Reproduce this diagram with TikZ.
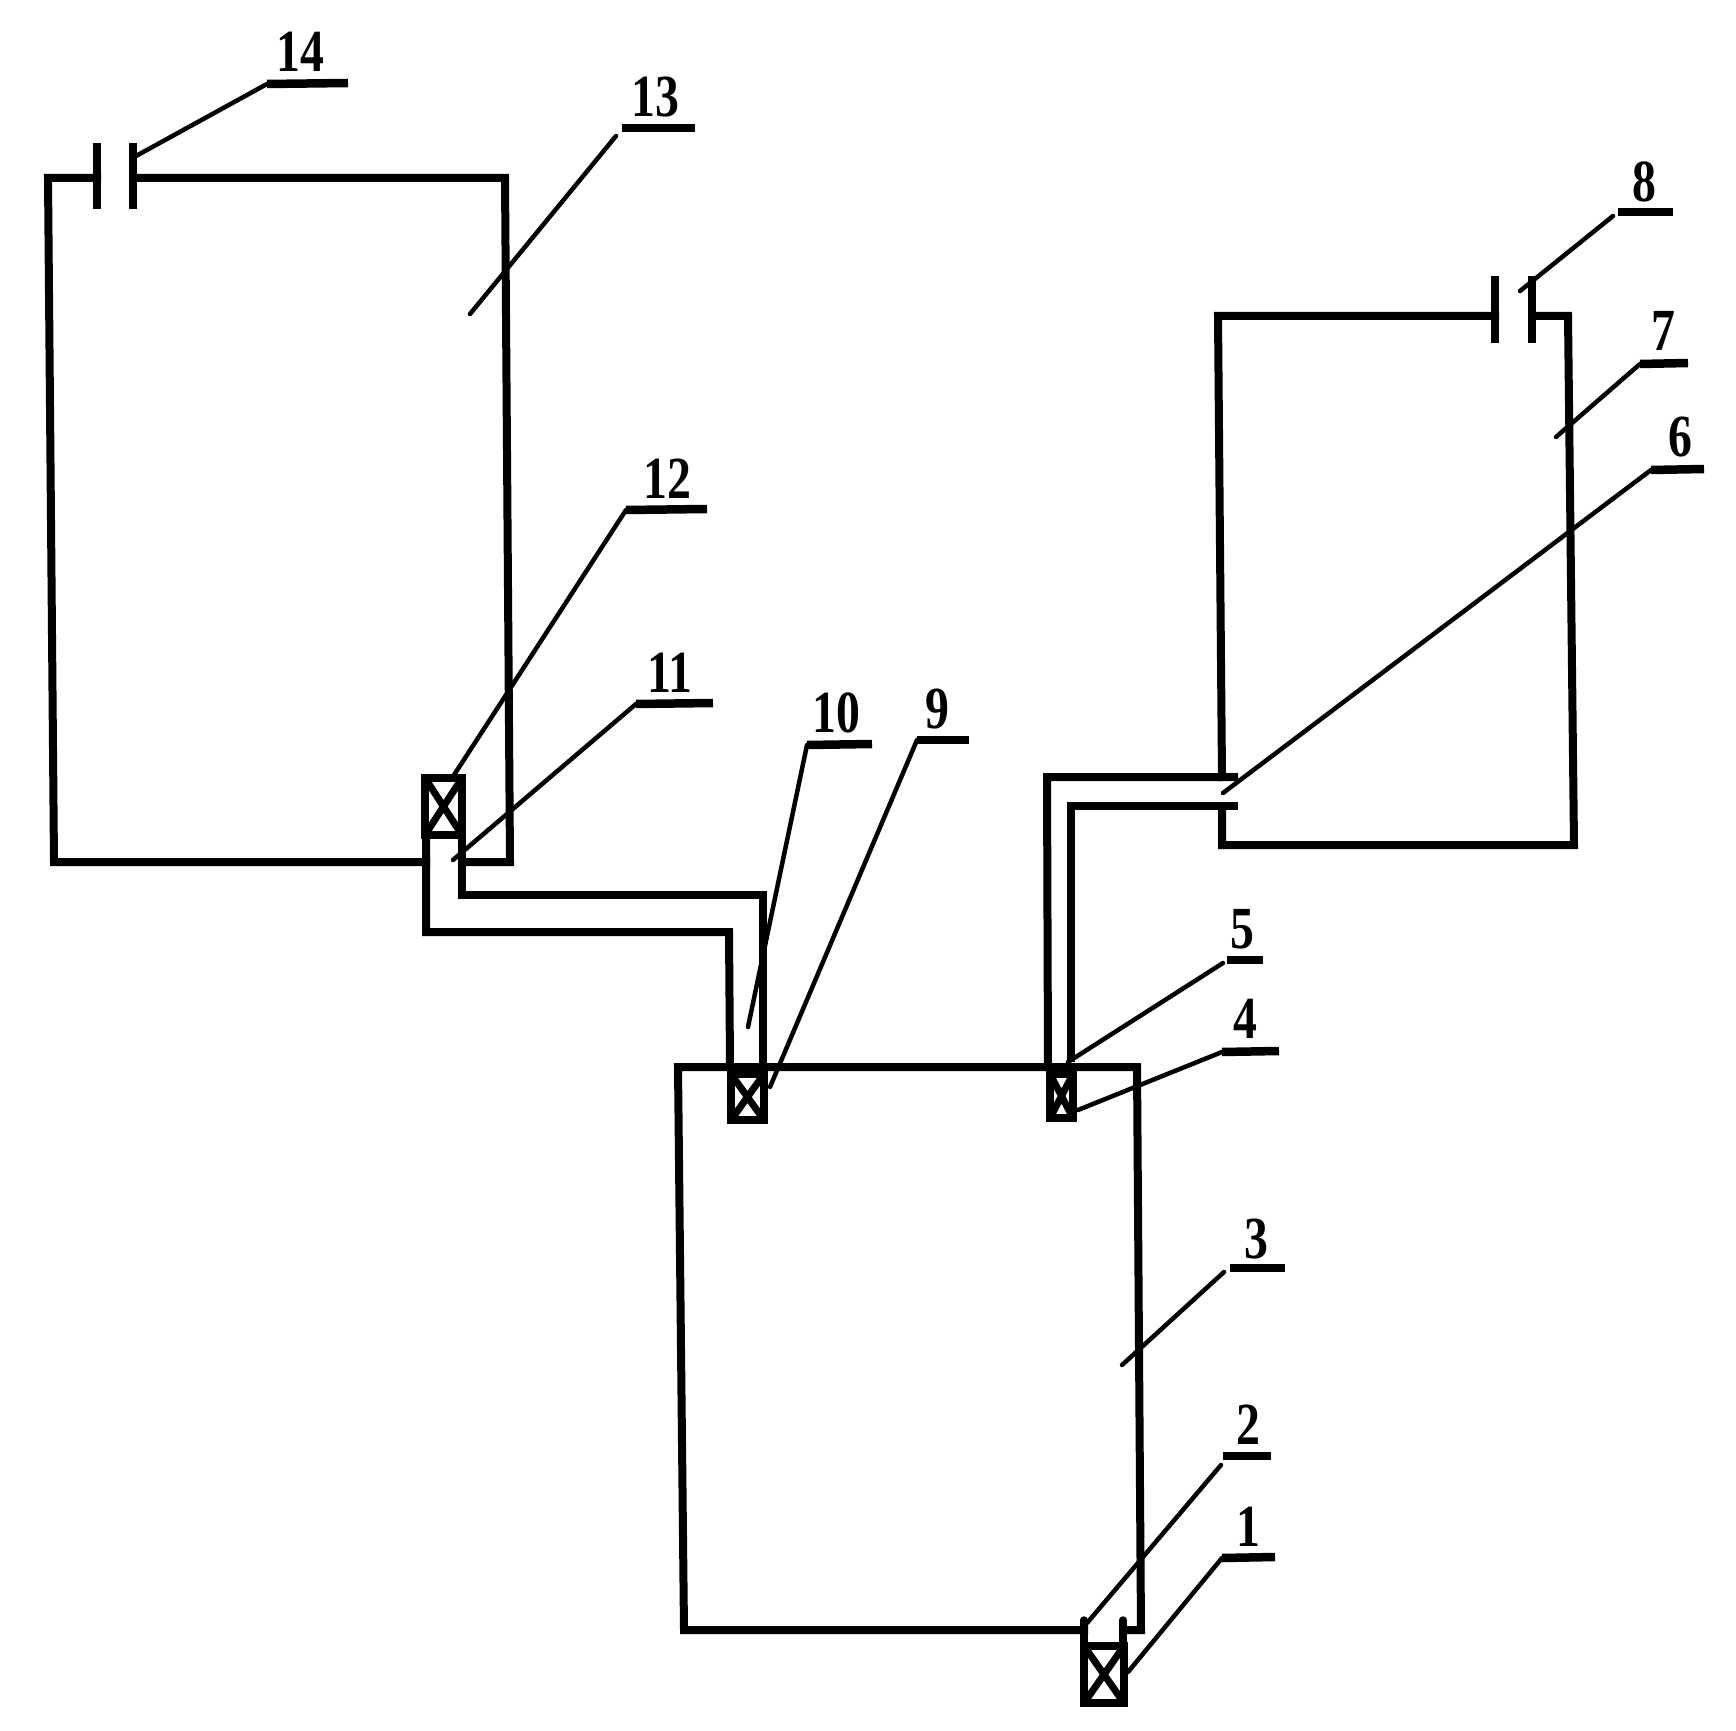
\documentclass[tikz,border=0pt]{standalone}
\usepackage{fontspec}
\setmainfont{Liberation Serif}
\tikzset{wall/.style={line width=0.8mm,line cap=rect,line join=miter},
 pipe/.style={line width=0.8mm,line join=miter},
 plate/.style={line width=0.8mm},
 stub/.style={line width=0.75mm,line cap=round},
 xbar/.style={line width=0.7mm},
 lead/.style={line width=0.45mm,line cap=round},
 uline/.style={line width=0.85mm},
 num/.style={font=\bfseries\fontsize{17}{17}\selectfont,inner sep=0pt,xscale=0.8,transform shape}}

\begin{document}
\begin{tikzpicture}[x=0.1mm,y=-0.1mm]
  \useasboundingbox (0,0) rectangle (1736,1731);
  % tank 13
  \draw[wall] (97,178) -- (48,178) -- (54,862) -- (426,862);
  \draw[wall] (462,862) -- (510,862) -- (505,178) -- (133,178);
  \coordinate (c14a) at (97,143);  \coordinate (c14b) at (97,209);
  \coordinate (c14c) at (133,143); \coordinate (c14d) at (133,209);
  \draw[plate] (c14a) -- (c14b);
  \draw[plate] (c14c) -- (c14d);
  % tank 7
  \draw[wall] (1495,316) -- (1218,316) -- (1222,777);
  \draw[wall] (1222,806) -- (1222,845) -- (1574,845) -- (1568,316) -- (1532,316);
  \coordinate (c8a) at (1495,276); \coordinate (c8b) at (1495,343);
  \coordinate (c8c) at (1532,276); \coordinate (c8d) at (1532,343);
  \draw[plate] (c8a) -- (c8b);
  \draw[plate] (c8c) -- (c8d);
  % tank 3
  \draw[wall] (1084,1630) -- (684,1630) -- (678,1067) -- (1137,1067) -- (1141,1630) -- (1123,1630);
  % pipes
  \draw[pipe] (426,835) -- (426,932) -- (729,932) -- (730,1065);
  \draw[pipe] (462,835) -- (462,895) -- (763,895) -- (763,1065);
  \draw[pipe] (1238,777) -- (1047,777) -- (1048,1068);
  \draw[pipe] (1238,806) -- (1071,806) -- (1071,1062);
  \draw[stub] (1084,1620) -- (1084,1648);
  \draw[stub] (1123,1620) -- (1123,1648);
  % valves
  \coordinate (v12a) at (425,778);  \coordinate (v12b) at (462,835);
  \coordinate (v9a)  at (731,1074); \coordinate (v9b)  at (764,1120);
  \coordinate (v4a)  at (1050,1074);\coordinate (v4b)  at (1073,1118);
  \coordinate (v1a)  at (1084,1646);\coordinate (v1b)  at (1124,1703);
  \draw[wall] (v12a) rectangle (v12b);
  \draw[xbar] (v12a) -- (v12b) (v12a -| v12b) -- (v12b -| v12a);
  \draw[wall] (v9a) rectangle (v9b);
  \draw[xbar] (v9a) -- (v9b) (v9a -| v9b) -- (v9b -| v9a);
  \draw[wall] (v4a) rectangle (v4b);
  \draw[xbar] (v4a) -- (v4b) (v4a -| v4b) -- (v4b -| v4a);
  \draw[wall] (v1a) rectangle (v1b);
  \draw[xbar] (v1a) -- (v1b) (v1a -| v1b) -- (v1b -| v1a);
  % labels
  \node[num] (n14) at (300,52) {14};
  \coordinate (t14) at (136,156);  \coordinate (k14) at (267,84);  \coordinate (u14) at (348,83);
  \node[num] (n13) at (655,97) {13};
  \coordinate (t13) at (470,314);  \coordinate (k13) at (616,136); \coordinate (m13) at (622,128); \coordinate (u13) at (695,128);
  \node[num] (n12) at (667,479) {12};
  \coordinate (t12) at (454,775);  \coordinate (k12) at (626,510); \coordinate (u12) at (707,509);
  \node[num] (n11) at (670,673) {11};
  \coordinate (t11) at (453,860);  \coordinate (k11) at (636,704); \coordinate (u11) at (713,703);
  \node[num] (n10) at (836,713) {10};
  \coordinate (t10) at (748,1027); \coordinate (k10) at (807,745); \coordinate (u10) at (872,744);
  \node[num] (n9) at (937,709) {9};
  \coordinate (t9) at (770,1087);  \coordinate (k9) at (917,740);  \coordinate (u9) at (969,740);
  \node[num] (n8) at (1644,182) {8};
  \coordinate (t8) at (1520,291);  \coordinate (k8) at (1613,216); \coordinate (m8) at (1618,212); \coordinate (u8) at (1673,212);
  \node[num] (n7) at (1663,331) {7};
  \coordinate (t7) at (1556,437);  \coordinate (k7) at (1640,364); \coordinate (u7) at (1688,363);
  \node[num] (n6) at (1680,437) {6};
  \coordinate (t6) at (1223,793);  \coordinate (k6) at (1651,470); \coordinate (u6) at (1704,469);
  \node[num] (n5) at (1242,929) {5};
  \coordinate (t5) at (1068,1062); \coordinate (k5) at (1223,963); \coordinate (m5) at (1227,960); \coordinate (u5) at (1263,960);
  \node[num] (n4) at (1245,1019) {4};
  \coordinate (t4) at (1078,1110); \coordinate (k4) at (1222,1052);\coordinate (u4) at (1279,1051);
  \node[num] (n3) at (1256,1239) {3};
  \coordinate (t3) at (1122,1365); \coordinate (k3) at (1224,1272);\coordinate (m3) at (1230,1268);\coordinate (u3) at (1285,1268);
  \node[num] (n2) at (1248,1425) {2};
  \coordinate (t2) at (1087,1623); \coordinate (k2) at (1221,1465);\coordinate (m2) at (1223,1456);\coordinate (u2) at (1271,1456);
  \node[num] (n1) at (1248,1527) {1};
  \coordinate (t1) at (1128,1672); \coordinate (k1) at (1222,1558);\coordinate (u1) at (1275,1557);
  % leaders
  \draw[lead] (t14) -- (k14);
  \draw[lead] (t13) -- (k13);
  \draw[lead] (t12) -- (k12);
  \draw[lead] (t11) -- (k11);
  \draw[lead] (t10) -- (k10);
  \draw[lead] (t9) -- (k9);
  \draw[lead] (t8) -- (k8);
  \draw[lead] (t7) -- (k7);
  \draw[lead] (t6) -- (k6);
  \draw[lead] (t5) -- (k5);
  \draw[lead] (t4) -- (k4);
  \draw[lead] (t3) -- (k3);
  \draw[lead] (t2) -- (k2);
  \draw[lead] (t1) -- (k1);
  % underlines
  \draw[uline] (k14) -- (u14);
  \draw[uline] (m13) -- (u13);
  \draw[uline] (k12) -- (u12);
  \draw[uline] (k11) -- (u11);
  \draw[uline] (k10) -- (u10);
  \draw[uline] (k9) -- (u9);
  \draw[uline] (m8) -- (u8);
  \draw[uline] (k7) -- (u7);
  \draw[uline] (k6) -- (u6);
  \draw[uline] (m5) -- (u5);
  \draw[uline] (k4) -- (u4);
  \draw[uline] (m3) -- (u3);
  \draw[uline] (m2) -- (u2);
  \draw[uline] (k1) -- (u1);
\end{tikzpicture}
\end{document}
